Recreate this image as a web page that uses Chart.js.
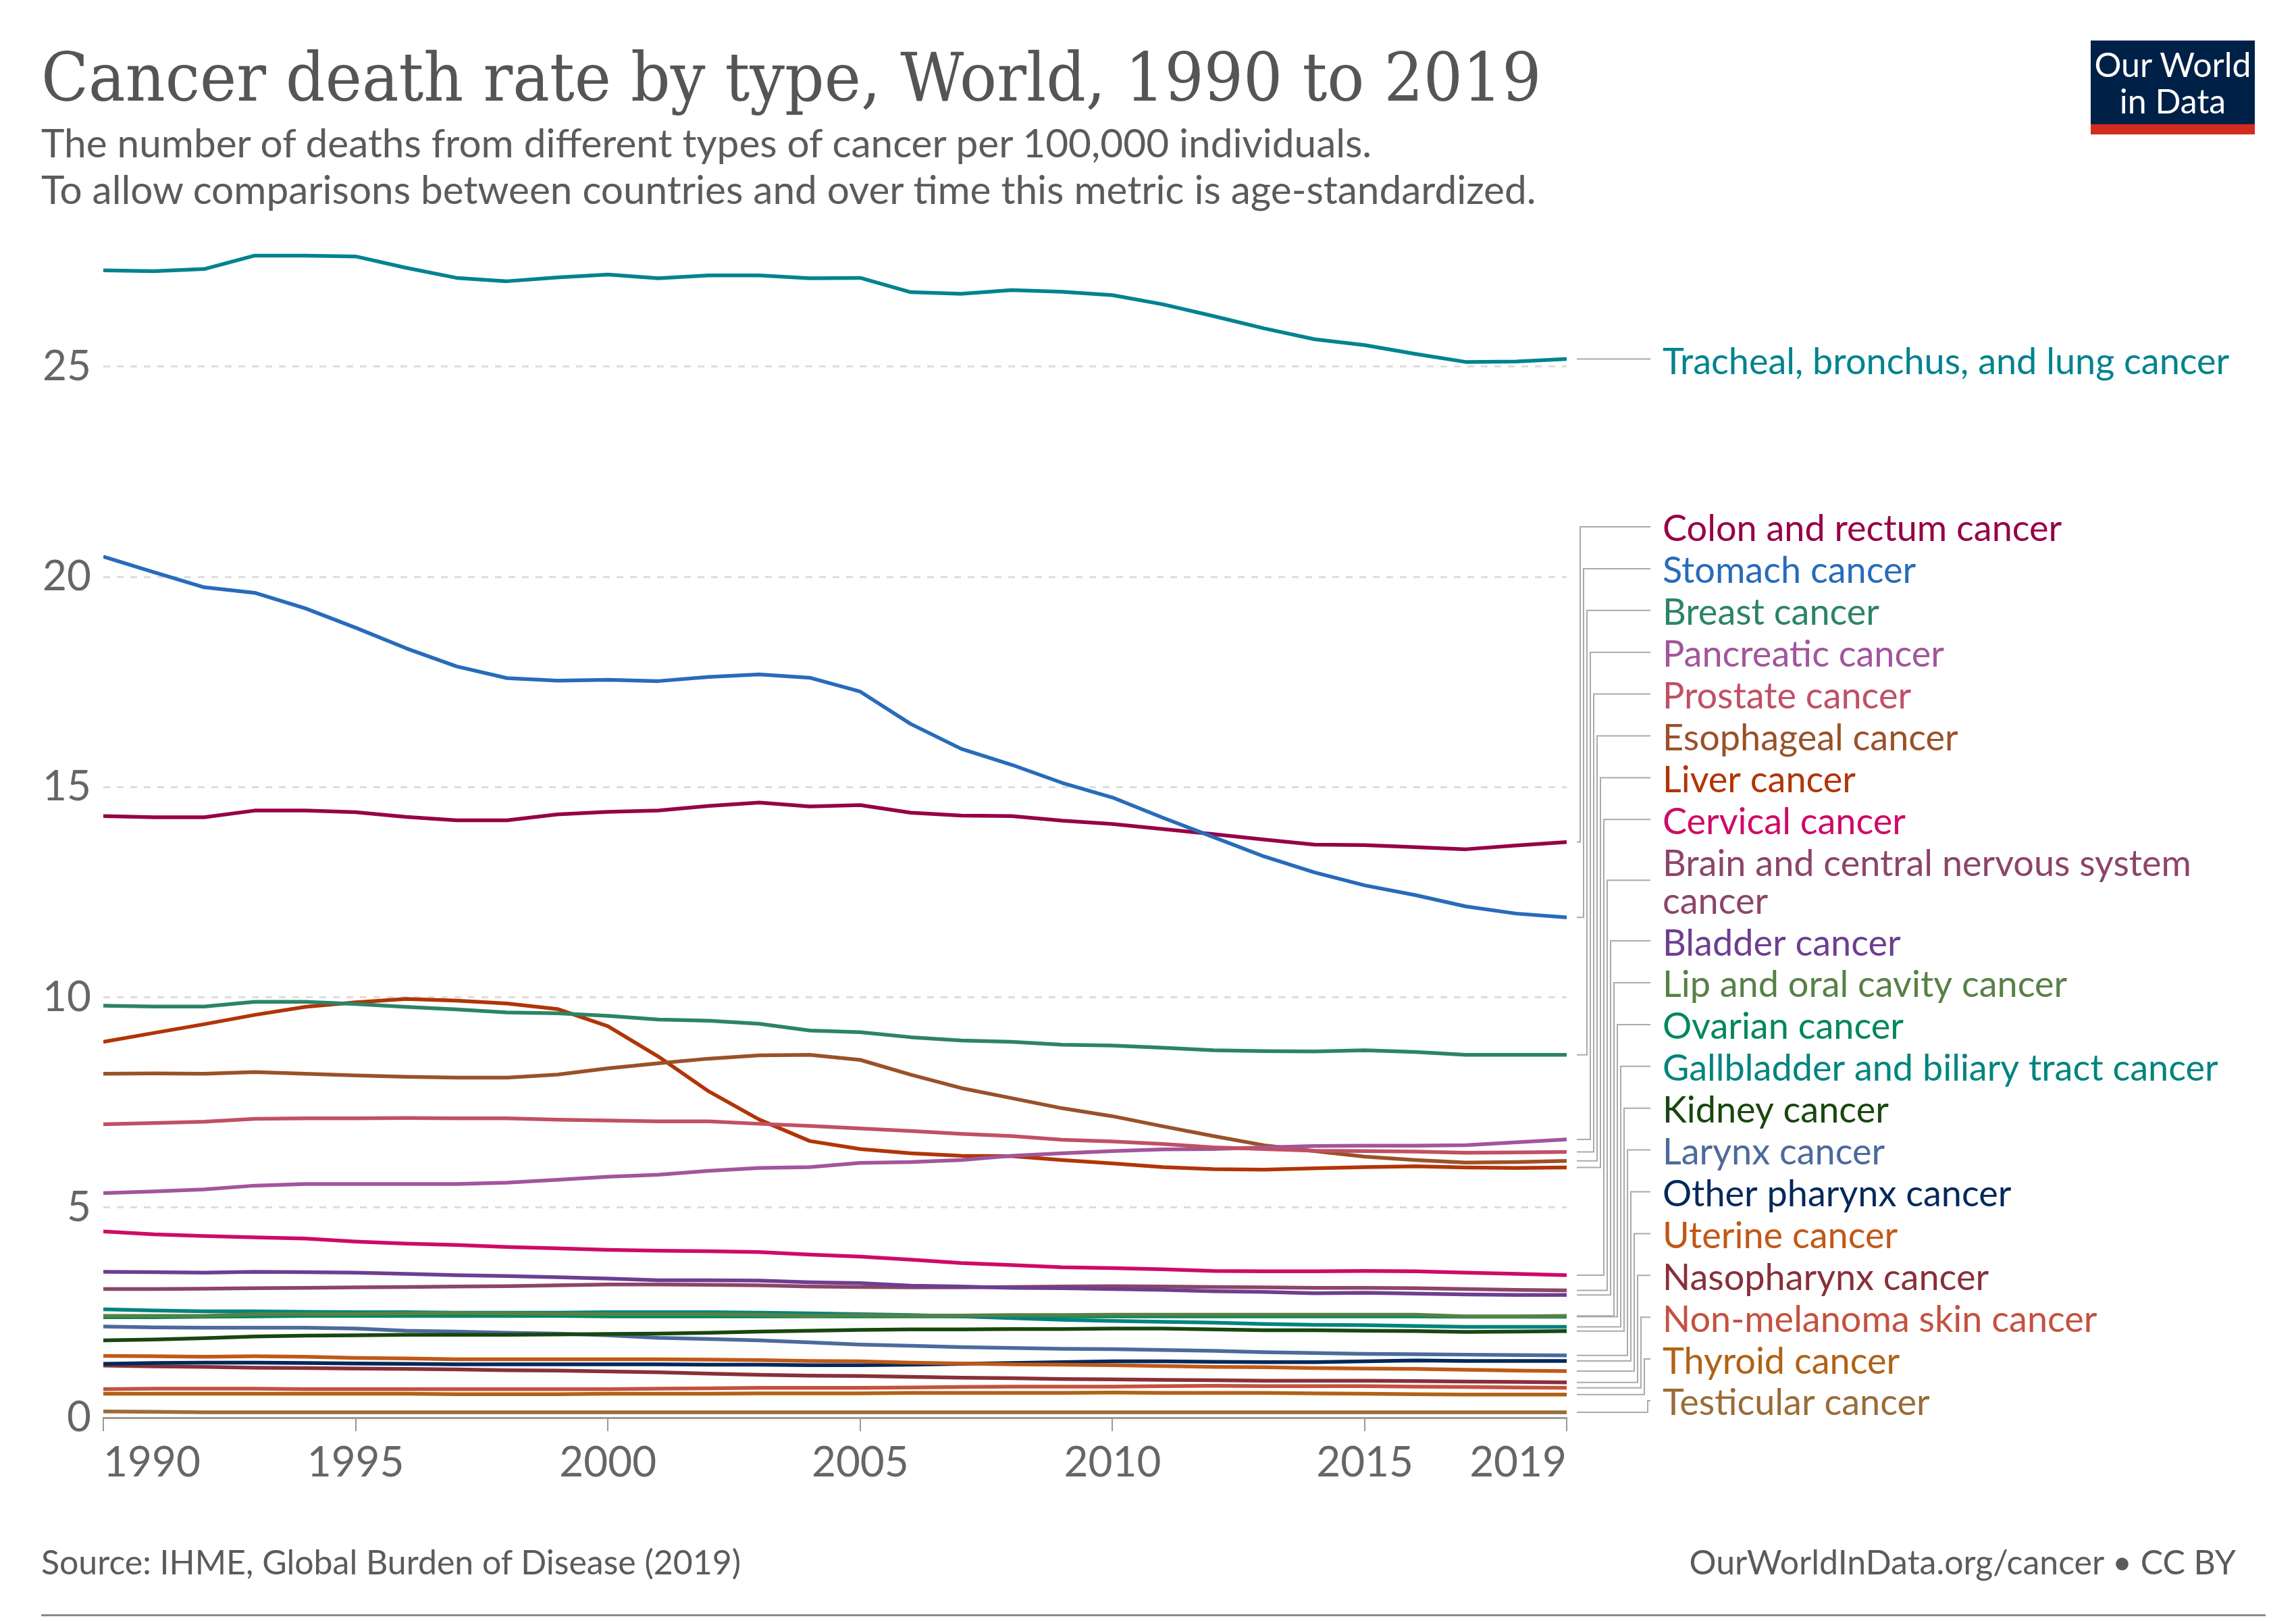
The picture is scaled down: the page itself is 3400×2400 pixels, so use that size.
<!DOCTYPE html>
<html>
<head>
<meta charset="utf-8">
<script src="https://cdn.jsdelivr.net/npm/chart.js@4.4.1/dist/chart.umd.min.js"></script>
<style>
  html, body { margin: 0; padding: 0; background: #fff; }
  #page { position: relative; width: 3400px; height: 2400px; overflow: hidden; }
  #chart { position: absolute; left: 0; top: 0; }
  .txt { position: absolute; white-space: nowrap; color: #5b5b5b; }
  #title { left: 61px; top: 65px; font: 100px/1 "DejaVu Serif", serif; color: #555; transform-origin: 0 0; transform: scaleX(0.916); }
  #subtitle { left: 61px; top: 176px; font: 58.5px/69px Lato, sans-serif; }
  #source { left: 61px; top: 2287px; font: 50px/1 Lato, sans-serif; }
  #credit { right: 89px; top: 2287px; font: 50px/1 Lato, sans-serif; }
  #logo { position: absolute; left: 3096px; top: 60px; width: 243px; background: #002147;
          border-bottom: 15px solid #d42b21; color: #fff; font: 50px/54px Lato, sans-serif; text-align: center;
          padding-top: 8px; box-sizing: content-box; height: 116px; }
  #rule { position: absolute; left: 61px; top: 2390px; width: 3294px; height: 3px; background: #8a8a8a; }
</style>
</head>
<body>
<div id="page">
  <canvas id="chart" width="3400" height="2400"></canvas>
  <div class="txt" id="title">Cancer death rate by type, World, 1990 to 2019</div>
  <div class="txt" id="subtitle">The number of deaths from different types of cancer per 100,000 individuals.<br>To allow comparisons between countries and over time this metric is age-standardized.</div>
  <div id="logo">Our World<br>in Data</div>
  <div class="txt" id="source">Source: IHME, Global Burden of Disease (2019)</div>
  <div class="txt" id="credit">OurWorldInData.org/cancer • CC BY</div>
  <div id="rule"></div>
</div>
<script>
// years on the x axis
var years = [];
for (var yr = 1990; yr <= 2019; yr++) years.push(yr);
var xTicks = [1990, 1995, 2000, 2005, 2010, 2015, 2019];
var yTicks = [0, 5, 10, 15, 20, 25];

// deaths per 100,000, age-standardized
var lung = [27.29, 27.27, 27.32, 27.64, 27.64, 27.62, 27.35, 27.11, 27.03, 27.12, 27.19, 27.10, 27.17, 27.17, 27.10,
            27.11, 26.77, 26.73, 26.82, 26.78, 26.70, 26.48, 26.20, 25.91, 25.65, 25.51, 25.30, 25.11, 25.12, 25.18];
var colon = [14.31, 14.28, 14.28, 14.44, 14.44, 14.40, 14.29, 14.21, 14.21, 14.35, 14.41, 14.44, 14.55, 14.63, 14.54,
             14.57, 14.39, 14.32, 14.31, 14.20, 14.12, 14.00, 13.88, 13.75, 13.63, 13.62, 13.57, 13.52, 13.61, 13.69];
var stomach = [20.48, 20.11, 19.75, 19.62, 19.25, 18.79, 18.30, 17.87, 17.59, 17.53, 17.55, 17.52, 17.62, 17.68, 17.60,
               17.27, 16.50, 15.91, 15.53, 15.10, 14.75, 14.27, 13.81, 13.35, 12.97, 12.66, 12.43, 12.16, 11.99, 11.90];
var breast = [9.80, 9.78, 9.78, 9.89, 9.89, 9.84, 9.77, 9.71, 9.64, 9.62, 9.56, 9.47, 9.44, 9.37, 9.21,
              9.17, 9.05, 8.97, 8.94, 8.87, 8.85, 8.80, 8.74, 8.72, 8.71, 8.74, 8.70, 8.63, 8.63, 8.63];
var pancreatic = [5.34, 5.38, 5.43, 5.52, 5.56, 5.56, 5.56, 5.56, 5.59, 5.66, 5.73, 5.78, 5.87, 5.94, 5.96,
                  6.06, 6.08, 6.13, 6.23, 6.29, 6.34, 6.38, 6.39, 6.43, 6.46, 6.47, 6.47, 6.48, 6.55, 6.62];
var prostate = [6.98, 7.01, 7.04, 7.11, 7.12, 7.12, 7.13, 7.12, 7.12, 7.09, 7.07, 7.05, 7.05, 6.99, 6.94,
                6.88, 6.82, 6.75, 6.70, 6.61, 6.57, 6.51, 6.43, 6.39, 6.35, 6.34, 6.33, 6.30, 6.31, 6.32];
var esophageal = [8.18, 8.19, 8.18, 8.22, 8.18, 8.14, 8.11, 8.09, 8.09, 8.16, 8.31, 8.43, 8.54, 8.62, 8.63,
                  8.51, 8.16, 7.84, 7.60, 7.36, 7.17, 6.93, 6.70, 6.48, 6.34, 6.21, 6.13, 6.07, 6.08, 6.11];
var liver = [8.94, 9.15, 9.36, 9.58, 9.77, 9.88, 9.96, 9.92, 9.85, 9.72, 9.31, 8.59, 7.76, 7.09, 6.58,
             6.39, 6.29, 6.23, 6.22, 6.13, 6.05, 5.96, 5.91, 5.90, 5.93, 5.96, 5.98, 5.95, 5.94, 5.95];
var cervical = [4.43, 4.36, 4.32, 4.29, 4.26, 4.19, 4.14, 4.11, 4.06, 4.03, 3.99, 3.97, 3.96, 3.94, 3.88,
                3.83, 3.76, 3.68, 3.63, 3.58, 3.56, 3.53, 3.49, 3.48, 3.48, 3.49, 3.48, 3.45, 3.42, 3.39];
var brain = [3.06, 3.06, 3.07, 3.08, 3.09, 3.10, 3.11, 3.12, 3.13, 3.15, 3.17, 3.17, 3.16, 3.15, 3.12,
             3.11, 3.10, 3.10, 3.11, 3.12, 3.13, 3.12, 3.11, 3.10, 3.09, 3.09, 3.08, 3.06, 3.04, 3.03];
var bladder = [3.47, 3.46, 3.45, 3.47, 3.46, 3.45, 3.42, 3.39, 3.37, 3.34, 3.31, 3.27, 3.27, 3.26, 3.22,
               3.20, 3.14, 3.12, 3.09, 3.08, 3.06, 3.04, 3.01, 2.99, 2.96, 2.97, 2.95, 2.93, 2.92, 2.92];
var lipOral = [2.42, 2.42, 2.42, 2.46, 2.47, 2.47, 2.48, 2.49, 2.48, 2.47, 2.46, 2.46, 2.46, 2.45, 2.42,
               2.44, 2.43, 2.43, 2.44, 2.44, 2.45, 2.45, 2.45, 2.45, 2.45, 2.45, 2.45, 2.41, 2.41, 2.42];
var ovarian = [2.39, 2.39, 2.40, 2.41, 2.42, 2.42, 2.42, 2.42, 2.42, 2.42, 2.41, 2.41, 2.41, 2.41, 2.41,
               2.41, 2.41, 2.41, 2.41, 2.41, 2.41, 2.41, 2.41, 2.41, 2.41, 2.41, 2.41, 2.40, 2.40, 2.40];
var gallbladder = [2.58, 2.55, 2.53, 2.53, 2.52, 2.51, 2.51, 2.50, 2.50, 2.50, 2.51, 2.51, 2.51, 2.50, 2.48,
                   2.46, 2.44, 2.41, 2.37, 2.33, 2.30, 2.28, 2.26, 2.23, 2.21, 2.20, 2.18, 2.16, 2.16, 2.16];
var kidney = [1.84, 1.86, 1.89, 1.93, 1.95, 1.96, 1.97, 1.97, 1.97, 1.98, 1.99, 2.00, 2.02, 2.05, 2.07,
              2.09, 2.10, 2.10, 2.11, 2.11, 2.12, 2.12, 2.10, 2.08, 2.08, 2.07, 2.06, 2.04, 2.05, 2.06];
var larynx = [2.17, 2.15, 2.14, 2.14, 2.14, 2.12, 2.07, 2.05, 2.02, 2.00, 1.96, 1.90, 1.87, 1.84, 1.79,
              1.74, 1.71, 1.68, 1.66, 1.64, 1.63, 1.61, 1.59, 1.56, 1.54, 1.52, 1.51, 1.50, 1.49, 1.48];
var pharynx = [1.28, 1.30, 1.31, 1.31, 1.30, 1.29, 1.28, 1.27, 1.27, 1.27, 1.27, 1.27, 1.26, 1.26, 1.25,
               1.25, 1.26, 1.28, 1.30, 1.32, 1.34, 1.34, 1.33, 1.32, 1.32, 1.34, 1.36, 1.35, 1.35, 1.35];
var uterine = [1.47, 1.46, 1.45, 1.46, 1.45, 1.42, 1.41, 1.39, 1.39, 1.39, 1.39, 1.39, 1.38, 1.37, 1.35,
               1.34, 1.31, 1.29, 1.27, 1.26, 1.25, 1.23, 1.21, 1.20, 1.18, 1.17, 1.16, 1.14, 1.12, 1.11];
var nasopharynx = [1.24, 1.22, 1.21, 1.19, 1.18, 1.17, 1.16, 1.15, 1.13, 1.12, 1.10, 1.08, 1.05, 1.02, 1.00,
                   0.99, 0.97, 0.95, 0.94, 0.92, 0.91, 0.90, 0.89, 0.88, 0.88, 0.88, 0.87, 0.86, 0.85, 0.84];
var skin = [0.68, 0.69, 0.69, 0.69, 0.68, 0.68, 0.68, 0.68, 0.68, 0.68, 0.68, 0.69, 0.70, 0.71, 0.71,
            0.71, 0.72, 0.73, 0.74, 0.74, 0.74, 0.75, 0.76, 0.75, 0.75, 0.75, 0.74, 0.73, 0.72, 0.71];
var thyroid = [0.57, 0.57, 0.57, 0.57, 0.57, 0.57, 0.57, 0.56, 0.56, 0.56, 0.57, 0.57, 0.57, 0.58, 0.58,
               0.58, 0.59, 0.59, 0.59, 0.59, 0.60, 0.59, 0.59, 0.59, 0.58, 0.57, 0.56, 0.55, 0.55, 0.55];
var testicular = [0.15, 0.14, 0.13, 0.13, 0.13, 0.13, 0.13, 0.13, 0.13, 0.13, 0.13, 0.13, 0.13, 0.13, 0.13,
                  0.13, 0.13, 0.13, 0.13, 0.13, 0.13, 0.13, 0.13, 0.13, 0.13, 0.13, 0.13, 0.13, 0.13, 0.13];

// series in drawing order, first one ends up on top
var series = [
    ["Tracheal, bronchus, and lung cancer", lung, "#00838f"],
    ["Stomach cancer", stomach, "#286bbb"],
    ["Colon and rectum cancer", colon, "#970046"],
    ["Breast cancer", breast, "#2c8465"],
    ["Prostate cancer", prostate, "#c15065"],
    ["Pancreatic cancer", pancreatic, "#a2559c"],
    ["Esophageal cancer", esophageal, "#9a5129"],
    ["Liver cancer", liver, "#b13507"],
    ["Cervical cancer", cervical, "#cf0a66"],
    ["Bladder cancer", bladder, "#6d3e91"],
    ["Brain and central nervous system|cancer", brain, "#8c4569"],
    ["Lip and oral cavity cancer", lipOral, "#578145"],
    ["Gallbladder and biliary tract cancer", gallbladder, "#00847e"],
    ["Ovarian cancer", ovarian, "#00875e"],
    ["Kidney cancer", kidney, "#18470f"],
    ["Larynx cancer", larynx, "#4c6a9c"],
    ["Uterine cancer", uterine, "#c05917"],
    ["Other pharynx cancer", pharynx, "#00295b"],
    ["Nasopharynx cancer", nasopharynx, "#883039"],
    ["Non-melanoma skin cancer", skin, "#c4523e"],
    ["Thyroid cancer", thyroid, "#b16214"],
    ["Testicular cancer", testicular, "#9a6c38"]
];

var datasets = series.map(function (s) {
    return {
        label: s[0],
        data: years.map(function (yr, i) { return { x: yr, y: s[1][i] }; }),
        borderColor: s[2],
        backgroundColor: s[2],
        borderWidth: 5.5,
        pointRadius: 0,
        tension: 0,
        borderJoinStyle: 'round',
        fill: false
    };
});

// labels at the right end, joined to the line ends with grey connectors
var endLabels = {
    id: 'endLabels',
    afterDraw: function (chart) {
        var c = chart.ctx;
        var yScale = chart.scales.y;
        var right = chart.chartArea.right;
        var items = chart.data.datasets.map(function (ds) {
            return { name: ds.label, color: ds.borderColor, last: ds.data[ds.data.length - 1].y };
        });
        items.sort(function (a, b) { return b.last - a.last; });

        c.save();
        c.font = '54px Lato';
        c.textBaseline = 'middle';
        c.strokeStyle = '#aaaaaa';
        c.lineWidth = 2;

        var stubX = right + 15, joinX = 2444, textX = 2462, nudge = 4;

        // biggest one has room to sit at its own value
        var first = items[0];
        var fy = yScale.getPixelForValue(first.last);
        c.beginPath(); c.moveTo(stubX, fy); c.lineTo(joinX, fy); c.stroke();
        c.fillStyle = first.color;
        c.fillText(first.name, textX, fy + nudge + 1);

        var step = 61.9, inner = 56;
        var top = 780 - step / 2;
        for (var i = 1; i < items.length; i++) {
            var it = items[i];
            var lines = it.name.split('|');
            var h = step + inner * (lines.length - 1);
            var mid = top + h / 2;
            var endY = yScale.getPixelForValue(it.last);
            var vx = 2340 + (i - 1) * 5;
            c.beginPath();
            c.moveTo(stubX, endY);
            c.lineTo(vx, endY);
            c.lineTo(vx, mid);
            c.lineTo(joinX, mid);
            c.stroke();
            c.fillStyle = it.color;
            for (var k = 0; k < lines.length; k++) {
                c.fillText(lines[k], textX, top + step / 2 + k * inner + nudge);
            }
            top += h;
        }
        c.restore();
    }
};

var ctx = document.getElementById('chart').getContext('2d');
var chart = new Chart(ctx, {
    type: 'line',
    data: { datasets: datasets },
    plugins: [endLabels],
    options: {
        responsive: false,
        devicePixelRatio: 1,
        animation: false,
        events: [],
        layout: { padding: { left: 0, right: 1080, top: 356, bottom: 191 } },
        plugins: { legend: { display: false }, tooltip: { enabled: false } },
        scales: {
            x: {
                type: 'linear',
                min: 1990,
                max: 2019,
                afterBuildTicks: function (axis) {
                    axis.ticks = xTicks.map(function (v) { return { value: v }; });
                },
                afterFit: function (axis) { axis.height = 110; },
                ticks: {
                    autoSkip: false,
                    maxRotation: 0,
                    align: 'inner',
                    padding: 10,
                    color: '#666',
                    font: { family: 'Lato', size: 62 },
                    callback: function (v) { return String(v); }
                },
                grid: { drawOnChartArea: false, drawTicks: true, tickLength: 20, color: '#999', lineWidth: 2 },
                border: { display: true, color: '#9a9a9a', width: 3 }
            },
            y: {
                min: 0,
                max: 28,
                afterBuildTicks: function (axis) {
                    axis.ticks = yTicks.map(function (v) { return { value: v }; });
                },
                afterFit: function (axis) { axis.width = 153; },
                ticks: {
                    padding: 18,
                    color: '#666',
                    font: { family: 'Lato', size: 62 }
                },
                grid: {
                    drawTicks: false,
                    lineWidth: 3,
                    color: function (c) { return c.tick && c.tick.value === 0 ? 'rgba(0,0,0,0)' : '#dddddd'; }
                },
                border: { display: false, dash: [10, 10] }
            }
        }
    }
});
</script>
</body>
</html>
